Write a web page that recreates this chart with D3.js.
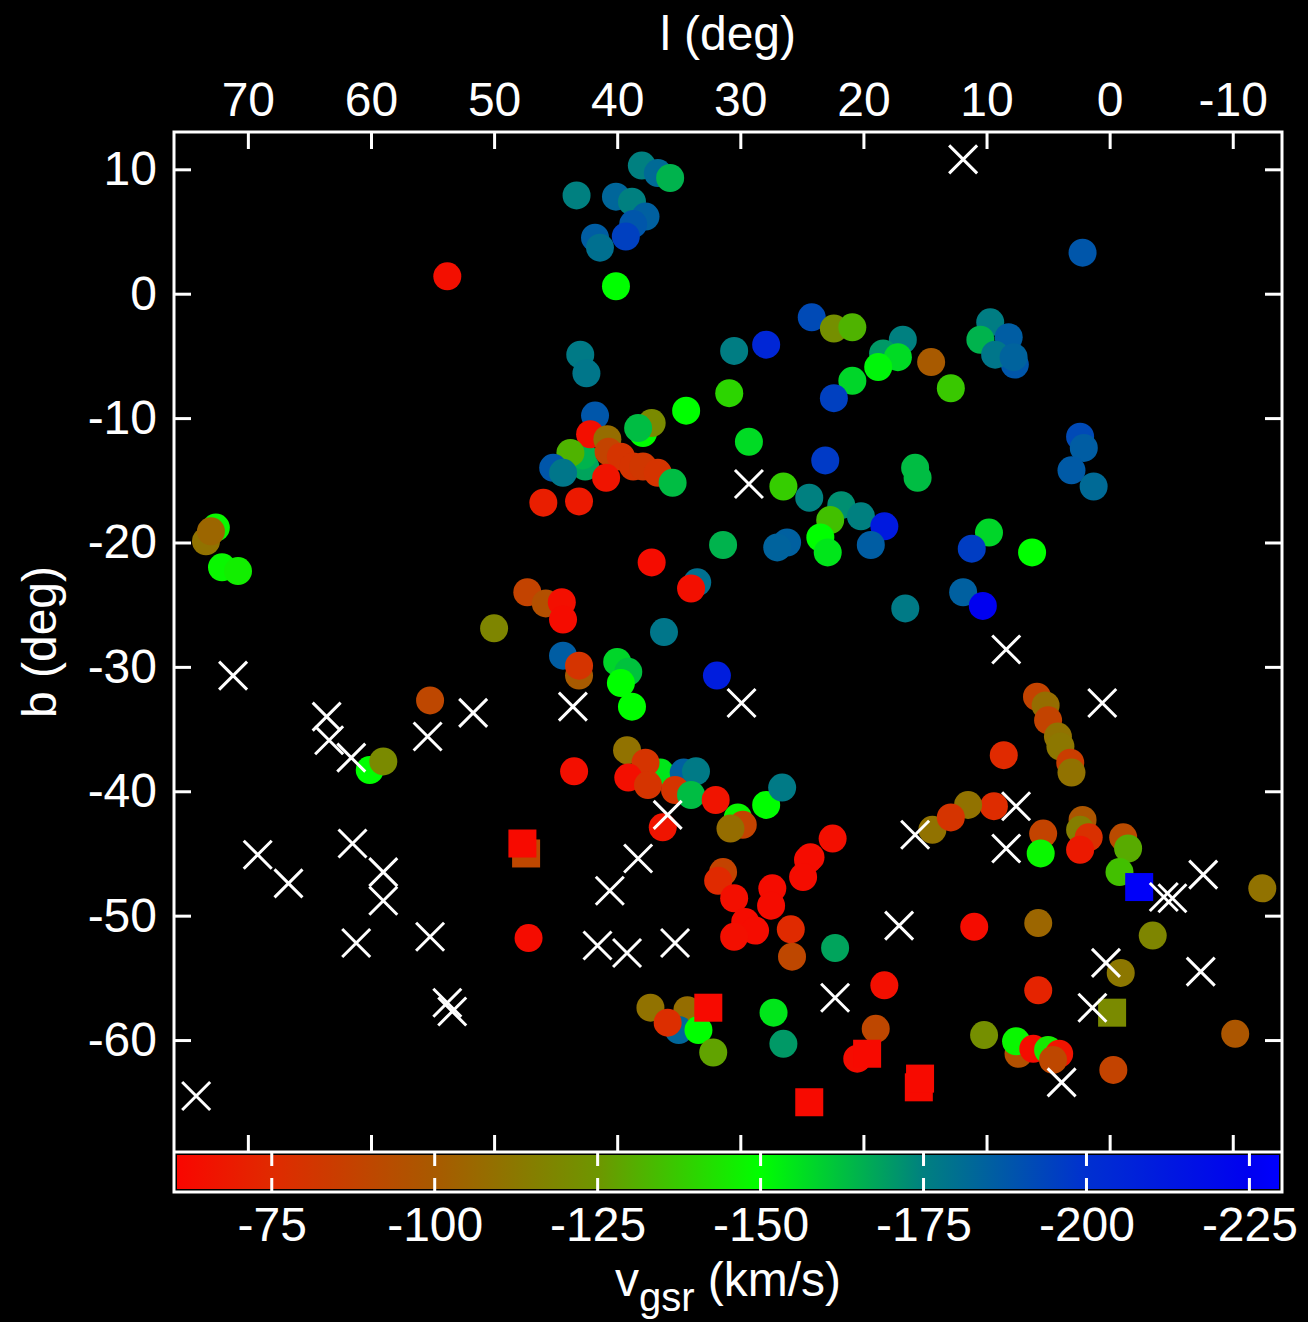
<!DOCTYPE html>
<html>
<head>
<meta charset="utf-8">
<script src="https://cdn.jsdelivr.net/npm/d3@7"></script>
<style>
body { margin: 0; background: #000; }
svg { display: block; font-family: "Liberation Sans", Arial, sans-serif; }
</style>
</head>
<body>
<div id="plot"></div>
<script>
// axis ticks
var lTicks = [70, 60, 50, 40, 30, 20, 10, 0, -10];
var bTicks = [10, 0, -10, -20, -30, -40, -50, -60];
var vTicks = [-75, -100, -125, -150, -175, -200, -225];

// colour bar: velocity stops and their colours
var vStops = [-60, -75, -100, -125, -150, -175, -200, -225, -230];
var colorStops = ["#fa0500", "#e02a00", "#a85a00", "#6e9600", "#00ff00", "#008080", "#0030d0", "#0000f0", "#0000ff"];

// circles: [l, b, v_gsr]
var circles = [
	[37.9, -11.2, -150], [33.5, -23.2, -180], [43.1, -30.7, -100], [36.5, -38.5, -155],
	[30.2, -42.1, -148], [34.3, -57.6, -108], [35.0, -59.2, -183], [7.7, -5.7, -188],
	[7.4, -61.1, -95], [72.6, -18.8, -148], [42.6, -13.9, -168], [42.8, -13.0, -165],
	[43.3, 7.9, -175], [40.1, 7.8, -183], [38.8, 7.4, -175], [37.7, 6.2, -185],
	[38.7, 5.6, -188], [39.3, 4.6, -195], [41.8, 4.5, -186], [41.4, 3.7, -180],
	[38.0, 10.3, -175], [36.7, 9.7, -182], [35.7, 9.3, -165], [40.1, 0.6, -150],
	[53.8, 1.4, -64], [24.2, -1.9, -192], [22.4, -2.8, -122], [20.9, -2.7, -132],
	[16.8, -3.7, -175], [18.4, -4.8, -170], [17.2, -5.1, -157], [18.8, -5.9, -152],
	[14.5, -5.5, -100], [20.9, -7.0, -158], [22.4, -8.4, -195], [30.5, -4.6, -176],
	[27.9, -4.1, -205], [30.9, -8.0, -140], [34.4, -9.4, -150], [43.0, -4.9, -177],
	[42.5, -6.4, -178], [41.8, -9.8, -188], [37.2, -10.4, -120], [38.3, -10.8, -163],
	[42.2, -11.3, -64], [40.8, -11.7, -108], [43.8, -12.8, -132], [45.2, -14.0, -188],
	[44.4, -14.4, -178], [40.7, -12.7, -88], [39.7, -13.1, -80], [38.7, -13.9, -80],
	[37.9, -13.9, -82], [36.7, -14.4, -80], [40.9, -14.8, -66], [35.5, -15.2, -163],
	[46.0, -16.8, -70], [43.1, -16.7, -68], [26.5, -15.5, -138], [29.3, -11.9, -157],
	[23.1, -13.4, -197], [15.8, -14.0, -163], [15.6, -14.8, -163], [24.4, -16.4, -175],
	[21.8, -17.0, -172], [20.2, -17.9, -175], [22.7, -18.2, -135], [18.3, -18.7, -212],
	[19.4, -20.2, -186], [23.5, -19.6, -150], [22.9, -20.8, -155], [26.2, -20.0, -185],
	[27.0, -20.4, -184], [31.4, -20.2, -165], [37.2, -21.6, -63], [34.0, -23.7, -64],
	[47.3, -24.0, -88], [45.8, -24.9, -95], [44.5, -24.8, -64], [44.4, -26.2, -63],
	[36.2, -27.2, -178], [16.6, -25.3, -177], [44.4, -29.1, -186], [43.1, -29.9, -80],
	[40.0, -29.6, -158], [39.1, -30.4, -162], [39.7, -31.3, -150], [38.8, -33.2, -150],
	[31.9, -30.7, -210], [39.2, -36.7, -110], [37.7, -37.7, -80], [39.1, -38.9, -64],
	[37.5, -39.5, -80], [34.6, -38.5, -185], [33.6, -38.4, -177], [35.3, -39.9, -80],
	[34.0, -40.3, -163], [43.5, -38.4, -64], [32.0, -40.7, -66], [36.3, -42.9, -66],
	[29.8, -42.7, -88], [30.8, -43.0, -108], [27.9, -41.1, -150], [26.6, -39.7, -177],
	[14.4, -43.1, -110], [22.5, -43.8, -64], [24.3, -45.3, -64], [47.2, -51.8, -63],
	[31.4, -46.5, -88], [31.8, -47.2, -75], [30.5, -48.6, -64], [27.4, -47.8, -63],
	[27.5, -49.2, -63], [24.5, -45.5, -63], [24.9, -46.9, -63], [29.6, -50.5, -63],
	[28.8, -51.2, -63], [30.5, -51.7, -64], [25.9, -51.1, -75], [25.8, -53.3, -90],
	[22.3, -52.6, -168], [18.3, -55.6, -64], [19.0, -59.1, -90], [20.5, -61.5, -63],
	[37.3, -57.4, -110], [35.9, -58.6, -77], [33.4, -59.2, -150], [32.2, -61.0, -128],
	[27.3, -57.8, -155], [26.5, -60.3, -170], [2.2, 3.3, -188], [9.7, -2.3, -176],
	[10.5, -3.7, -165], [8.2, -3.5, -186], [9.3, -4.9, -178], [7.8, -5.1, -184],
	[12.9, -7.6, -137], [2.4, -11.5, -192], [2.1, -12.4, -186], [3.1, -14.2, -187],
	[1.3, -15.5, -182], [9.8, -19.2, -158], [11.2, -20.5, -196], [6.3, -20.8, -150],
	[11.9, -24.0, -185], [10.3, -25.1, -225], [5.9, -32.4, -88], [5.2, -33.1, -108],
	[5.0, -34.3, -88], [4.2, -35.6, -110], [4.0, -36.4, -112], [3.2, -37.7, -85],
	[3.1, -38.5, -110], [8.6, -37.1, -75], [9.4, -41.2, -76], [11.5, -41.1, -110],
	[12.9, -42.1, -80], [5.4, -43.4, -88], [5.6, -45.0, -148], [2.2, -42.3, -98],
	[2.4, -43.1, -115], [1.7, -43.7, -78], [2.4, -44.7, -68], [-1.1, -43.7, -92],
	[-1.5, -44.6, -130], [-0.8, -46.5, -135], [-12.4, -47.8, -110], [11.0, -50.9, -63],
	[5.8, -50.6, -105], [-3.5, -51.6, -118], [-0.9, -54.6, -112], [5.8, -56.0, -72],
	[10.2, -59.6, -122], [7.6, -60.1, -148], [6.2, -60.7, -63], [5.0, -60.8, -145],
	[4.1, -61.1, -66], [4.6, -61.6, -90], [-10.2, -59.5, -98], [-0.3, -62.4, -88],
	[73.4, -19.9, -110], [73.0, -19.1, -105], [72.1, -22.0, -148], [70.8, -22.3, -146],
	[50.0, -26.9, -118], [55.2, -32.7, -90], [60.1, -38.3, -150], [59.0, -37.6, -120]
];

// squares: [l, b, v_gsr]
var squares = [
	[47.4, -45.0, -90], [47.7, -44.2, -62], [32.6, -57.4, -62], [19.7, -61.1, -62],
	[15.5, -63.8, -62], [15.4, -63.1, -62], [24.4, -65.0, -62], [-2.4, -47.7, -228],
	[-0.2, -57.8, -120]
];

// crosses (no velocity): [l, b]
var crosses = [
	[11.9, 10.8], [29.3, -15.3], [71.2, -30.7], [63.6, -34.0], [63.4, -35.9],
	[61.6, -37.3], [55.4, -35.6], [51.7, -33.7], [43.6, -33.2], [29.9, -32.9],
	[8.4, -28.6], [0.6, -32.9], [35.9, -41.9], [38.3, -45.4], [40.6, -48.0],
	[41.6, -52.4], [39.2, -53.0], [35.3, -52.2], [69.2, -45.1], [66.7, -47.4],
	[61.5, -44.2], [59.0, -46.5], [59.0, -48.8], [61.2, -52.2], [55.2, -51.7],
	[53.8, -57.0], [53.4, -57.7], [74.2, -64.5], [22.3, -56.6], [17.1, -50.8],
	[15.8, -43.5], [8.4, -44.6], [7.6, -41.2], [-4.4, -48.5], [-5.1, -48.6],
	[-7.6, -46.7], [0.3, -53.8], [-7.4, -54.5], [1.4, -57.4], [3.9, -63.4]
];

function chart(){
	var W = 1308, H = 1322;
	var left = 174, right = 1282, top = 132, bottom = 1152, barBottom = 1192;
	var tick = 17;

	var svg = d3.select("#plot").append("svg")
		.attr("width", W)
		.attr("height", H);

	svg.append("rect").attr("width", W).attr("height", H).attr("fill", "#000");

	var x = d3.scaleLinear().domain([76, -14]).range([left, right]);
	var y = d3.scaleLinear().domain([13, -69]).range([top, bottom]);
	var vx = d3.scaleLinear().domain([-60, -230]).range([left, right]);
	var color = d3.scaleLinear().domain(vStops).range(colorStops).clamp(true);

	var fmt = function(d) { return String(d); };

	// data
	var plot = svg.append("g");

	plot.selectAll("circle.pt")
		.data(circles)
		.enter().append("circle")
		.attr("class", "pt")
		.attr("cx", function(d) { return x(d[0]); })
		.attr("cy", function(d) { return y(d[1]); })
		.attr("r", 14)
		.attr("fill", function(d) { return color(d[2]); });

	plot.selectAll("rect.sq")
		.data(squares)
		.enter().append("rect")
		.attr("class", "sq")
		.attr("x", function(d) { return x(d[0]) - 14; })
		.attr("y", function(d) { return y(d[1]) - 14; })
		.attr("width", 28)
		.attr("height", 28)
		.attr("fill", function(d) { return color(d[2]); });

	var h = 14;
	plot.selectAll("path.cross")
		.data(crosses)
		.enter().append("path")
		.attr("class", "cross")
		.attr("transform", function(d) { return "translate(" + x(d[0]) + "," + y(d[1]) + ")"; })
		.attr("d", "M" + (-h) + "," + (-h) + "L" + h + "," + h + "M" + (-h) + "," + h + "L" + h + "," + (-h))
		.attr("stroke", "white")
		.attr("stroke-width", 3)
		.attr("fill", "none");

	// colour bar
	var grad = svg.append("defs").append("linearGradient")
		.attr("id", "vgrad")
		.attr("gradientUnits", "userSpaceOnUse")
		.attr("x1", vx(-60)).attr("x2", vx(-230))
		.attr("y1", 0).attr("y2", 0);
	grad.selectAll("stop")
		.data(vStops)
		.enter().append("stop")
		.attr("offset", function(d) { return (vx(d) - left) / (right - left); })
		.attr("stop-color", function(d) { return color(d); });

	svg.append("rect")
		.attr("x", left + 3)
		.attr("y", bottom + 3)
		.attr("width", right - left - 6)
		.attr("height", barBottom - bottom - 6)
		.attr("fill", "url(#vgrad)");

	svg.append("g").selectAll("line")
		.data(vTicks)
		.enter().append("line")
		.attr("x1", function(d) { return vx(d); })
		.attr("x2", function(d) { return vx(d); })
		.attr("y1", bottom)
		.attr("y2", barBottom)
		.attr("stroke", "white")
		.attr("stroke-width", 3)
		.attr("stroke-dasharray", "14,12,14");

	// frames
	svg.append("rect")
		.attr("x", left).attr("y", top)
		.attr("width", right - left).attr("height", barBottom - top)
		.attr("fill", "none").attr("stroke", "white").attr("stroke-width", 3);
	svg.append("line")
		.attr("x1", left).attr("x2", right)
		.attr("y1", bottom).attr("y2", bottom)
		.attr("stroke", "white").attr("stroke-width", 3);

	// axes
	var gTop = svg.append("g").attr("transform", "translate(0," + top + ")")
		.call(d3.axisTop(x).tickValues(lTicks).tickSize(-tick).tickPadding(16).tickFormat(fmt));
	var gBottom = svg.append("g").attr("transform", "translate(0," + bottom + ")")
		.call(d3.axisBottom(x).tickValues(lTicks).tickSize(-tick).tickFormat(""));
	var gLeft = svg.append("g").attr("transform", "translate(" + left + ",0)")
		.call(d3.axisLeft(y).tickValues(bTicks).tickSize(-tick).tickPadding(17).tickFormat(fmt));
	var gRight = svg.append("g").attr("transform", "translate(" + right + ",0)")
		.call(d3.axisRight(y).tickValues(bTicks).tickSize(-tick).tickFormat(""));
	var gBar = svg.append("g").attr("transform", "translate(0," + barBottom + ")")
		.call(d3.axisBottom(vx).tickValues(vTicks).tickSize(0).tickPadding(15).tickFormat(fmt));

	[gTop, gBottom, gLeft, gRight, gBar].forEach(function(g) {
		g.select(".domain").remove();
		g.selectAll(".tick line").attr("stroke", "white").attr("stroke-width", 3);
		g.selectAll(".tick text")
			.attr("fill", "white")
			.style("font-size", "48px")
			.style("font-family", "'Liberation Sans', Arial, sans-serif");
	});

	// titles
	svg.append("text")
		.attr("x", 728).attr("y", 50)
		.attr("text-anchor", "middle")
		.attr("fill", "white")
		.style("font-size", "48px")
		.text("l (deg)");

	svg.append("text")
		.attr("transform", "translate(56,642) rotate(-90)")
		.attr("text-anchor", "middle")
		.attr("fill", "white")
		.style("font-size", "48px")
		.text("b (deg)");

	var vt = svg.append("text")
		.attr("x", 728).attr("y", 1296)
		.attr("text-anchor", "middle")
		.attr("fill", "white")
		.style("font-size", "48px");
	vt.append("tspan").text("v");
	vt.append("tspan").attr("dy", 15).style("font-size", "40px").text("gsr");
	vt.append("tspan").attr("dy", -15).text(" (km/s)");
}

chart();
</script>
</body>
</html>
